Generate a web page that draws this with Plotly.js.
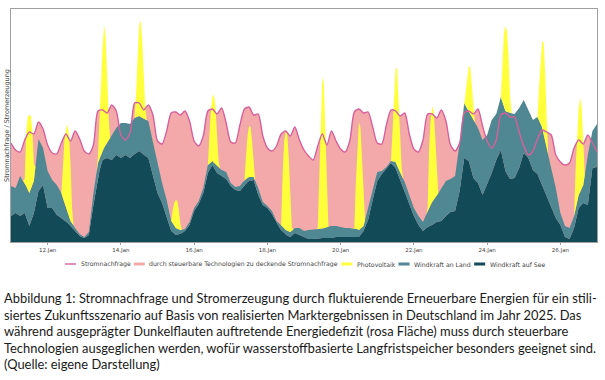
<!DOCTYPE html>
<html><head><meta charset="utf-8">
<script src="https://cdn.plot.ly/plotly-3.0.1.min.js"></script>
<style>html,body{margin:0;padding:0;background:#fff;}#chart{width:605px;height:380px;}</style>
</head><body><div id="chart"></div>
<script>
// time grid: 3-hourly from 11 Jan 2025 00:00 to 27 Jan 2025 00:00
const startDay = '2025-01-11';
const stepHours = 3;

// Stromnachfrage (arbitrary units)
const demand = [99,92,90,102,110,108,120,113,97,89,88,99,108,101,111,103,91,88,97,131,132,129,137,131,107,102,109,139,139,132,137,127,101,
98,111,129,130,127,131,121,101,96,106,131,133,128,134,119,100,99,117,133,135,127,128,106,94,91,96,108,111,106,115,102,92,
86,82,96,108,97,111,101,93,90,101,130,133,129,130,115,99,98,117,132,131,126,129,108,93,90,102,128,128,124,132,121,97,91,
99,129,131,128,133,116,101,94,102,127,129,125,125,110,96,87,91,103,112,110,107,87,80,77,79,94,102,98,107,99,90];

// Windkraft auf See
const windOffshore = [26,29,26,29,16,29,51,57,34,34,27,24,21,16,10,6,4,7,37,66,82,84,82,87,84,87,84,88,91,87,84,67,49,
39,24,11,7,8,11,17,31,38,49,69,77,69,66,63,56,52,51,57,61,62,47,37,34,28,19,12,7,5,9,7,5,
3,3,3,4,4,4,5,5,5,5,5,5,11,22,42,61,68,74,79,74,62,52,39,26,17,11,15,17,20,21,26,30,31,
51,84,81,64,59,47,58,69,82,92,71,63,64,74,89,84,72,68,57,47,36,24,17,5,3,14,34,39,37,74,75];

// Windkraft an Land
const windOnshore = [30,25,40,30,33,32,52,37,37,28,30,25,13,5,4,2,1,3,12,13,10,15,25,27,35,32,34,36,35,36,37,33,30,
20,18,10,7,4,2,3,3,3,5,8,4,7,6,7,3,3,5,5,4,3,7,3,2,3,2,5,5,5,5,7,6,
9,9,10,9,11,12,11,10,9,9,9,7,5,12,12,9,3,1,2,6,7,8,8,8,9,9,16,23,26,33,35,33,35,
48,55,49,58,55,55,49,53,46,53,60,66,64,60,53,48,50,57,58,46,38,30,12,11,11,12,13,18,50,37,43];

// Photovoltaik: hours of day and one row per day (11.Jan ... 26.Jan)
const pvHours = [0,3,6,8,9,10,11,12,13,14,15,16,17,18,21];
const pvByDay = [
 [0,0,0,0,4,55,73,78,73,55,17,0,0,0,0],
 [0,0,0,0,0,30,62,78,88,82,57,15,0,0,0],
 [0,0,0,0,7,43,72,102,123,108,68,22,0,0,0],
 [0,0,0,0,0,26,68,92,96,77,44,12,0,0,0],
 [0,0,0,0,0,13,23,28,28,19,6,0,0,0,0],
 [0,0,0,0,0,27,53,64,68,57,32,7,0,0,0],
 [0,0,0,0,0,23,42,51,50,35,12,0,0,0,0],
 [0,0,0,0,0,52,87,98,97,74,37,3,0,0,0],
 [0,0,0,0,1,55,113,152,145,94,32,0,0,0,0],
 [0,0,0,0,0,47,87,108,101,70,29,0,0,0,0],
 [0,0,0,0,0,30,68,94,97,70,34,8,0,0,0],
 [0,0,0,0,3,60,85,96,89,61,22,0,0,0,0],
 [0,0,0,0,0,16,35,46,47,33,12,0,0,0,0],
 [0,0,0,0,0,35,73,85,81,56,18,0,0,0,0],
 [0,0,0,0,0,32,65,85,92,70,33,2,0,0,0],
 [0,0,0,0,0,40,67,87,94,80,43,0,0,0,0]
];

const tickDays = ['2025-01-12','2025-01-14','2025-01-16','2025-01-18','2025-01-20','2025-01-22','2025-01-24','2025-01-26'];
const legendNames = ['Stromnachfrage','durch steuerbare Technologien zu deckende Stromnachfrage','Photovoltaik','Windkraft an Land','Windkraft auf See'];
const captionLines = [
 'Abbildung 1: Stromnachfrage und Stromerzeugung durch fluktuierende Erneuerbare Energien für ein stili-',
 'siertes Zukunftsszenario auf Basis von realisierten Marktergebnissen in Deutschland im Jahr 2025. Das',
 'während ausgeprägter Dunkelflauten auftretende Energiedefizit (rosa Fläche) muss durch steuerbare',
 'Technologien ausgeglichen werden, wofür wasserstoffbasierte Langfristspeicher besonders geeignet sind.',
 '(Quelle: eigene Darstellung)'
];

const C = {line:'#d6609c', pink:'#f3a9a9', pv:'#ffff3c', on:'#4f8793', off:'#124a58'};

const startMs = Date.parse(startDay + 'T00:00:00Z');
function hToDate(h){ return new Date(startMs + h*3600000).toISOString().slice(0,16).replace('T',' '); }
const tGrid = demand.map((_, i) => hToDate(i*stepHours));
const pvX = [], pvY = [];
pvByDay.forEach((row, d) => row.forEach((v, j) => { pvX.push(hToDate(d*24 + pvHours[j])); pvY.push(v); }));

const traces = [
 {x:tGrid, y:demand, mode:'lines', line:{width:0, shape:'spline', smoothing:0.7}, fill:'tozeroy', fillcolor:C.pink, showlegend:false, hoverinfo:'skip'},
 {x:tGrid, y:windOffshore, mode:'lines', stackgroup:'gen', stackgaps:'interpolate', fill:'tozeroy', fillcolor:C.off, line:{width:0, color:C.off}, showlegend:false, hoverinfo:'skip'},
 {x:tGrid, y:windOnshore, mode:'lines', stackgroup:'gen', fill:'tonexty', fillcolor:C.on, line:{width:0, color:C.on}, showlegend:false, hoverinfo:'skip'},
 {x:pvX, y:pvY, mode:'lines', stackgroup:'gen', fill:'tonexty', fillcolor:C.pv, line:{width:0, color:C.pv}, showlegend:false, hoverinfo:'skip'},
 {x:tGrid, y:demand, mode:'lines', line:{width:1.4, color:C.line, shape:'spline', smoothing:0.7}, showlegend:false, hoverinfo:'skip'}
];

const plotTop = 9, plotBottom = 242, plotLeft = 11, plotW = 586, plotH = plotBottom - plotTop;
const py = y => (plotBottom - y) / plotH;
const px = x => (x - plotLeft) / plotW;

// legend drawn as short line keys + labels below the plot, laid out from measured text widths
const legendColors = [C.line, C.pink, C.pv, C.on, C.off];
const legendWidths = [1.4, 3, 3, 3, 3];
const legendFont = {family:'DejaVu Sans', size:6.2, color:'#444'};
const legendSpan = [65, 543], legendY = 264, keyLen = 11, keyGap = 2.5;
const ctx = document.createElement('canvas').getContext('2d');
ctx.font = legendFont.size + 'px "DejaVu Sans"';
const textW = legendNames.map(n => ctx.measureText(n).width);
const itemW = textW.map(w => keyLen + keyGap + w);
const between = (legendSpan[1] - legendSpan[0] - itemW.reduce((a, b) => a + b, 0)) / (legendNames.length - 1);
const shapes = [];
const annotations = [
 {text:'Stromnachfrage / Stromerzeugung', xref:'paper', yref:'paper', x:px(6.5), y:0.5, xanchor:'center', yanchor:'middle', textangle:-90, showarrow:false, font:{family:'DejaVu Sans', size:6.5, color:'#444'}}
];
let cursor = legendSpan[0];
legendNames.forEach((n, i) => {
 shapes.push({type:'line', xref:'paper', yref:'paper', x0:px(cursor), x1:px(cursor + keyLen), y0:py(legendY), y1:py(legendY), line:{color:legendColors[i], width:legendWidths[i]}});
 annotations.push({text:n, xref:'paper', yref:'paper', x:px(cursor + keyLen + keyGap), y:py(legendY), xanchor:'left', yanchor:'middle', showarrow:false, font:legendFont});
 cursor += itemW[i] + between;
});
const capY = [298, 314.5, 331, 347.5, 364];
captionLines.forEach((t, i) => annotations.push({text:t, xref:'paper', yref:'paper', x:px(2), y:py(capY[i]), xanchor:'left', yanchor:'middle', showarrow:false, font:{family:'Lato', size:12.9, color:'#1a1a1a'}}));

const layout = {
 width:605, height:380,
 margin:{l:plotLeft, r:605-plotLeft-plotW, t:plotTop, b:380-plotBottom},
 paper_bgcolor:'#fff', plot_bgcolor:'#fff',
 showlegend:false,
 xaxis:{type:'date', range:[hToDate(0), hToDate(384)], tickvals:tickDays, tickformat:'%d.%b', tickfont:{family:'DejaVu Sans', size:5.5, color:'#444'}, ticks:'outside', ticklen:2, tickcolor:'#999', showline:true, mirror:true, linecolor:'#a0a0a0', linewidth:1, showgrid:false, zeroline:false, fixedrange:true},
 yaxis:{range:[0, plotH], showticklabels:false, ticks:'', showline:true, mirror:true, linecolor:'#a0a0a0', linewidth:1, showgrid:false, zeroline:false, fixedrange:true},
 shapes:shapes,
 annotations:annotations
};
Plotly.newPlot('chart', traces, layout, {displayModeBar:false, staticPlot:true});
</script></body></html>
